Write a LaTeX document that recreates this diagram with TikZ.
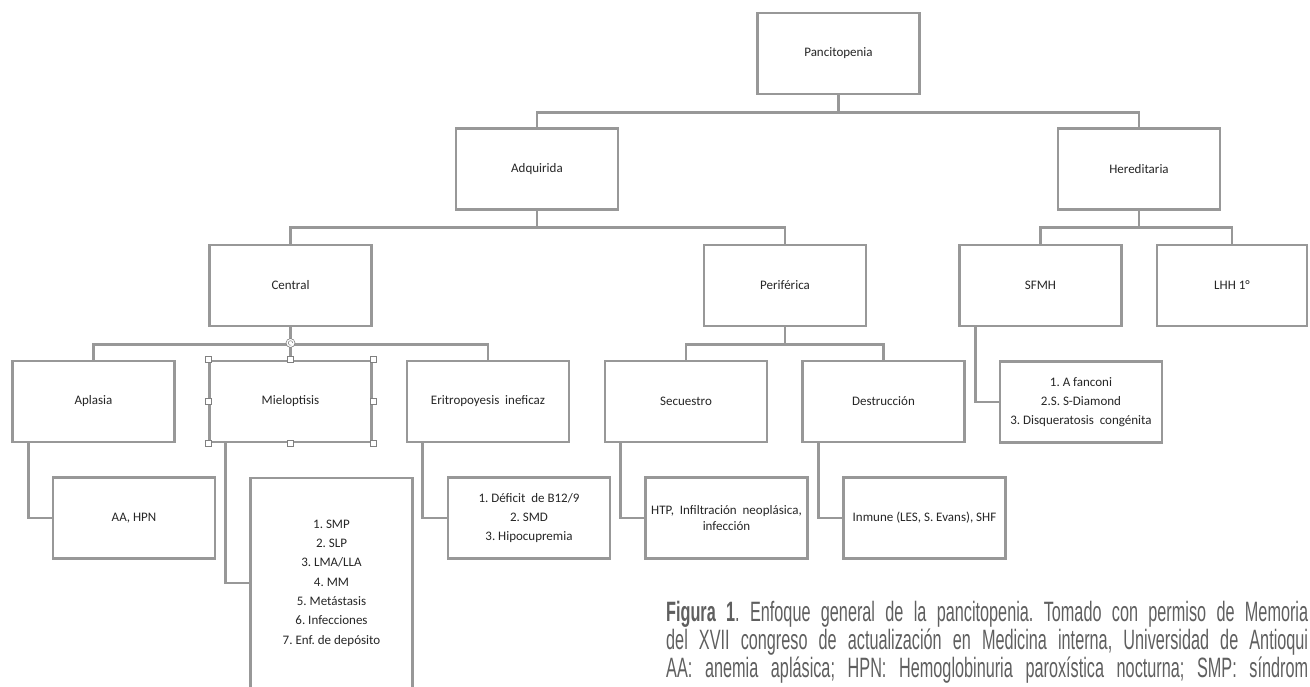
\documentclass[tikz,border=0pt]{standalone}
\usepackage{fontspec}
\setmainfont{Carlito}
\newfontfamily\capfont[FakeStretch=0.58]{Liberation Sans}
\definecolor{linegray}{RGB}{152,152,152}
\definecolor{capgray}{RGB}{95,95,95}
\frenchspacing
\begin{document}
\begin{tikzpicture}[x=1pt,y=-1pt,
    main node/.style={rectangle,draw=linegray,line width=2.6pt,fill=white,minimum width=162pt,minimum height=81pt,inner sep=2pt,align=center,text=black!85,font=\fontsize{13}{19.3}\selectfont},
    tree/.style={draw=linegray,line width=2.6pt,to path={-- ++(0,17) -| (\tikztotarget)}},
    side/.style={draw=linegray,line width=2.6pt,to path={|- (\tikztotarget)}},
    handle/.style={rectangle,draw=gray,fill=white,line width=0.6pt,minimum size=6pt,inner sep=0pt},
    cap line/.style={anchor=base west,inner sep=0pt,text=capgray,font=\capfont\fontsize{28}{28}\selectfont}]
        \useasboundingbox (0,0) rectangle (1310,687);

        \node[main node] at (838.5, 53.5) (panc) {Pancitopenia};
        \node[main node] at (537, 169) (adq) {Adquirida};
        \node[main node] at (1139, 169) (her) {Hereditaria};
        \node[main node] at (290.5, 285.5) (cen) {Central};
        \node[main node] at (785, 285.5) (per) {Periférica};
        \node[main node] at (1040.5, 285.5) (sfmh) {SFMH};
        \node[main node, minimum width=150pt] at (1232, 285.5) (lhh) {LHH 1°};
        \node[main node] at (93.5, 401.5) (apl) {Aplasia};
        \node[main node] at (290.5, 401.5) (mie) {Mieloptisis};
        \node[main node] at (488, 401.5) (eri) {Eritropoyesis~ ineficaz};
        \node[main node] at (686, 401.5) (sec) {Secuestro};
        \node[main node] at (883.5, 401.5) (des) {Destrucción};
        \node[main node] at (1081, 402) (afan) {1. A fanconi\\2.S. S-Diamond\\3. Disqueratosis~ congénita};
        \node[main node] at (134, 518) (aahpn) {AA, HPN};
        \node[main node, minimum height=210pt] at (331.5, 583) (mlist) {1. SMP\\2. SLP\\3. LMA/LLA\\4. MM\\5. Metástasis\\6. Infecciones\\7. Enf. de depósito};
        \node[main node] at (529, 518) (defi) {1. Déficit~ de B12/9\\2. SMD\\3. Hipocupremia};
        \node[main node, font=\fontsize{13}{15.5}\selectfont] at (726.5, 518) (htp) {HTP,~ Infiltración~ neoplásica,\\infección};
        \node[main node] at (924.5, 518) (inm) {Inmune (LES, S. Evans), SHF};

        \path
            (panc.south) edge[tree] (adq.north)
            (panc.south) edge[tree] (her.north)
            (adq.south) edge[tree] (cen.north)
            (adq.south) edge[tree] (per.north)
            (her.south) edge[tree] (sfmh.north)
            (her.south) edge[tree] (lhh.north)
            (cen.south) edge[tree] (apl.north)
            (cen.south) edge[tree] (mie.north)
            (cen.south) edge[tree] (eri.north)
            (per.south) edge[tree] (sec.north)
            (per.south) edge[tree] (des.north)
            ([xshift=17pt]apl.south west) edge[side] (aahpn.west)
            ([xshift=17pt]mie.south west) edge[side] (mlist.west)
            ([xshift=17pt]eri.south west) edge[side] (defi.west)
            ([xshift=17pt]sec.south west) edge[side] (htp.west)
            ([xshift=17pt]des.south west) edge[side] (inm.west)
            ([xshift=17pt]sfmh.south west) edge[side] (afan.west)
            ;

        \foreach \a [count=\i] in {north west,north,north east,east,south east,south,south west,west}
            \node[handle] (hd\i) at (mie.\a) {};
        \node[circle,draw=gray,fill=white,line width=0.6pt,minimum size=9pt,inner sep=0pt] (rot) at (290.5, 343) {};
        \draw[gray,line width=0.5pt] ([xshift=2.3pt]rot.center) arc[start angle=0,end angle=290,radius=2.3pt];

        \node[cap line] (cap1) at (666, 621) {\makebox[642pt][s]{\textbf{Figura 1}. Enfoque general de la pancitopenia. Tomado con permiso de Memoria}};
        \node[cap line] (cap2) at (666, 649) {\makebox[642pt][s]{del XVII congreso de actualización en Medicina interna, Universidad de Antioqui}};
        \node[cap line] (cap3) at (666, 677) {\makebox[642pt][s]{AA: anemia aplásica; HPN: Hemoglobinuria paroxística nocturna; SMP: síndrom}};
\end{tikzpicture}
\end{document}
